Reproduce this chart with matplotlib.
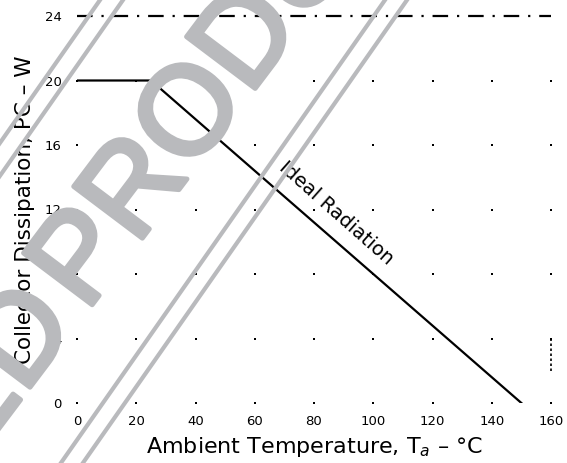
import matplotlib
matplotlib.use("Agg")
import matplotlib.pyplot as plt
import matplotlib.patheffects as pe
import numpy as np

# Data
temp = [0, 25, 150]          # Ambient temperature, degC
power = [20, 20, 0]          # Collector dissipation, W (ideal radiation)
hs_temp = [0, 160]
hs_power = [24, 24]          # upper dash-dot line
mark_temp = [160, 160]
mark_power = [2.0, 4.0]      # short dotted mark at right edge
x_ticks = [0, 20, 40, 60, 80, 100, 120, 140, 160]
y_ticks = [0, 4, 8, 12, 16, 20, 24]

W, H = 567, 463
fig = plt.figure(figsize=(W / 100, H / 100), dpi=100)
ax = fig.add_axes([77 / W, 1 - 403 / H, 474 / W, 387 / H])
ax.set_xlim(0, 160)
ax.set_ylim(0, 24)
for s in ax.spines.values():
    s.set_visible(False)

# dotted grid at intersections
gx, gy = np.meshgrid(x_ticks, y_ticks[:-1])
ax.scatter(gx.ravel(), gy.ravel(), s=4, color='black', marker='s', lw=0, zorder=1,
           clip_on=False)

ax.plot(temp, power, color='black', lw=1.6, zorder=3)
ax.plot(hs_temp, hs_power, color='black', lw=1.6, ls=(0, (7, 4, 1, 4)), zorder=3,
        clip_on=False)
ax.plot(mark_temp, mark_power, color='black', lw=1.2, ls=(0, (1.5, 1.5)), zorder=3,
        clip_on=False)

ax.set_xticks(x_ticks)
ax.set_yticks(y_ticks)
ax.tick_params(axis='x', length=0, labelsize=9.5, pad=8.5)
ax.tick_params(axis='y', length=0, labelsize=9.5, pad=11)
ax.set_xlabel("Ambient Temperature, T$_a$ \u2013 \u00b0C", fontsize=16, labelpad=5)
ax.set_ylabel("Collector Dissipation, PC \u2013 W", fontsize=15.5, labelpad=7)

ax.text(87.4, 11.8, "Ideal Radiation", rotation=-41.5, fontsize=14,
        ha='center', va='center', rotation_mode='anchor')

# watermark
wm_col = '#b9babd'
ang = 53
ax_px, ay_px = 86, 313
thick = [pe.withStroke(linewidth=3.5, foreground=wm_col)]
fig.text(ax_px / W, 1 - ay_px / H, "PRODUCT", fontsize=90, color=wm_col, rotation=ang,
         ha='left', va='baseline', rotation_mode='anchor', family='Liberation Sans',
         zorder=10, path_effects=thick)
gap = 13
bx = ax_px - gap * np.cos(np.radians(ang))
by = ay_px + gap * np.sin(np.radians(ang))
fig.text(bx / W, 1 - by / H, "ED", fontsize=90, color=wm_col, rotation=ang,
         ha='right', va='baseline', rotation_mode='anchor', family='Liberation Sans',
         zorder=10, path_effects=thick)
slope = 0.70
for x0 in [100, 123, 385, 407]:
    xs = [x0, x0 - slope * 463]
    ys = [0, 463]
    fig.add_artist(plt.Line2D([x / W for x in xs], [1 - y / H for y in ys],
                              color=wm_col, lw=3, transform=fig.transFigure, zorder=10))

fig.savefig("out.png", dpi=100)
